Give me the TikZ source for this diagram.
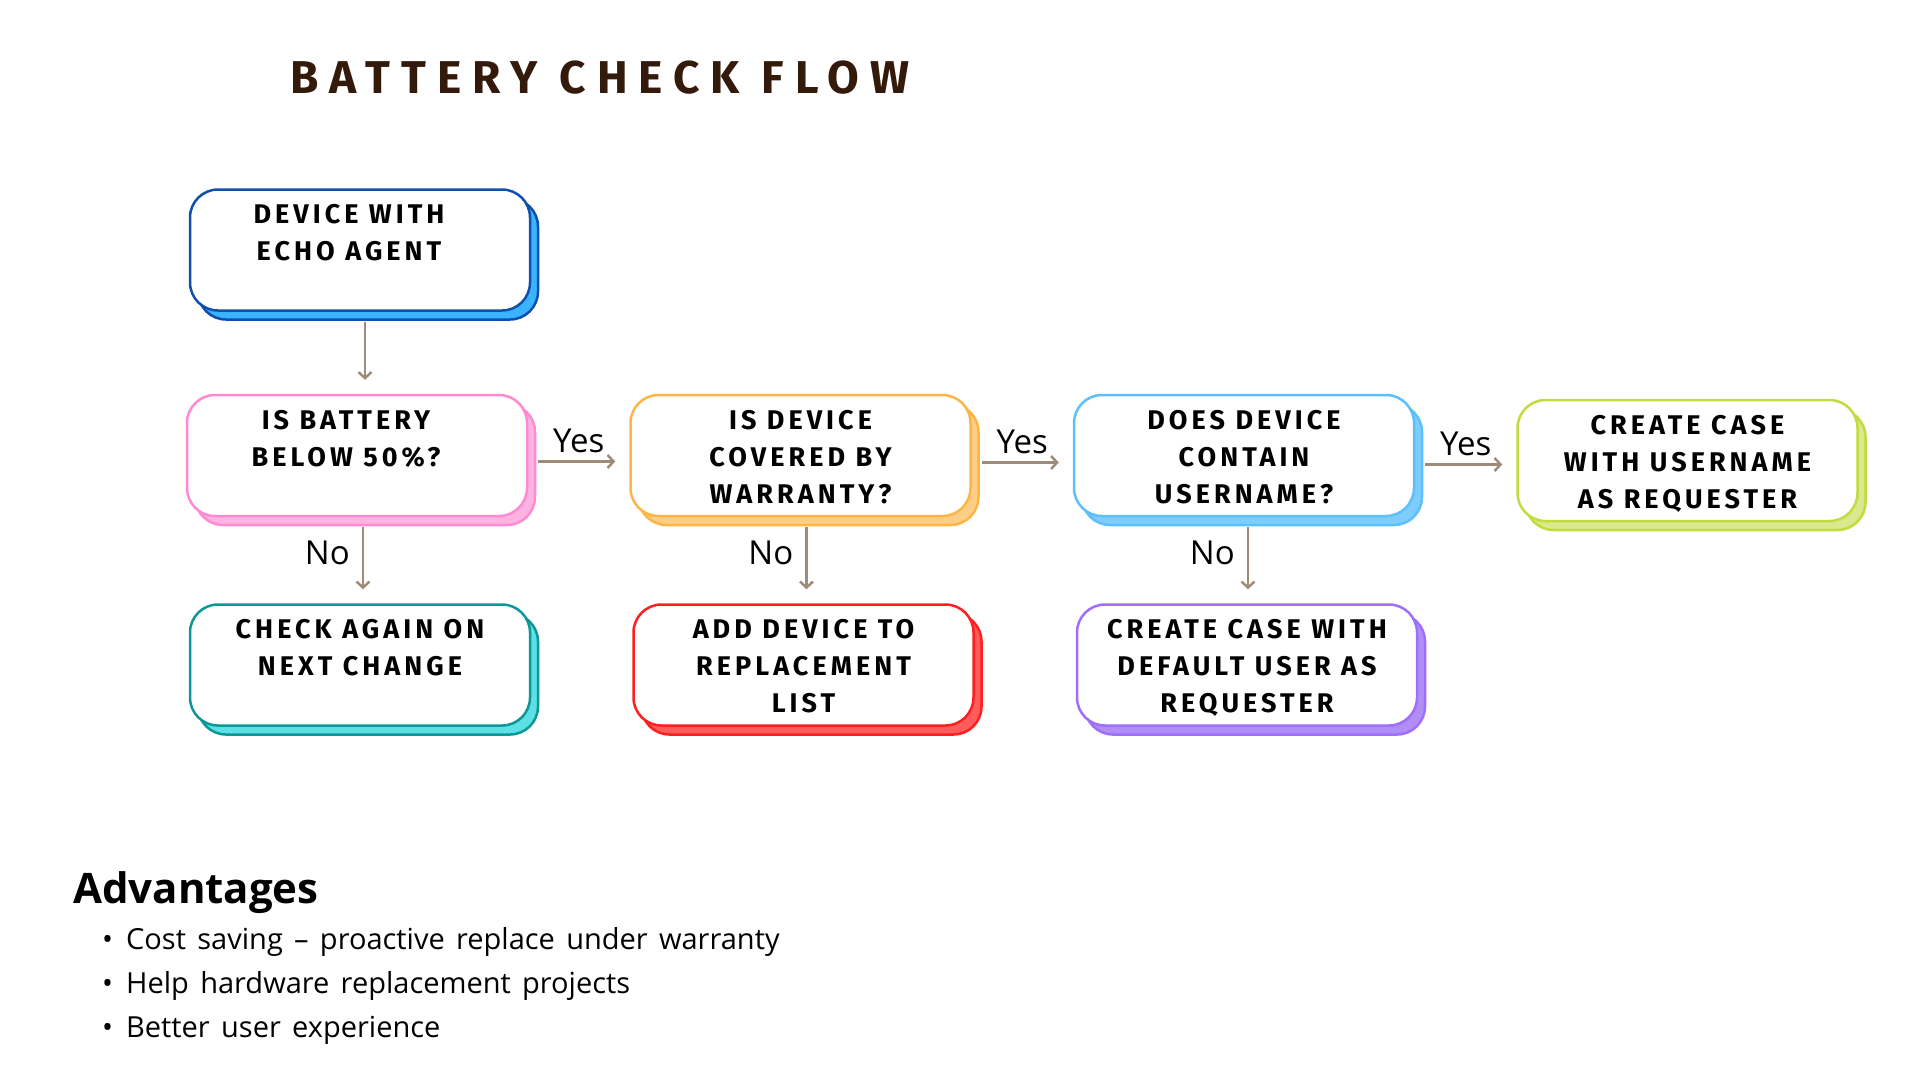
\documentclass[tikz,border=0pt]{standalone}
\usepackage{fontspec}
\usepackage{xcolor}
\usepackage{tikz}
\usetikzlibrary{positioning,shadows,arrows.meta}
\setmainfont{Open Sans}
\newfontfamily\boxfont[LetterSpace=15]{Fira Sans}
\newfontfamily\titlefont[LetterSpace=24]{Fira Sans}
\newfontfamily\listfont[WordSpace=1.5, Ligatures=TeX]{Open Sans}
\definecolor{titletext}{HTML}{331A0A}
\definecolor{linkline}{HTML}{9E8C78}
\definecolor{agentline}{HTML}{0F4FAE}
\definecolor{agentfill}{HTML}{3AB4FF}
\definecolor{batline}{HTML}{FF8AD2}
\definecolor{batfill}{HTML}{FFB3E3}
\definecolor{warline}{HTML}{FFB545}
\definecolor{warfill}{HTML}{FFCE85}
\definecolor{usrline}{HTML}{5CC0FF}
\definecolor{usrfill}{HTML}{7DCDFF}
\definecolor{creline}{HTML}{C2DB3E}
\definecolor{crefill}{HTML}{D8E98E}
\definecolor{chkline}{HTML}{0E9797}
\definecolor{chkfill}{HTML}{5CE0E5}
\definecolor{addline}{HTML}{FF1F1F}
\definecolor{addfill}{HTML}{FF5C5C}
\definecolor{dfltline}{HTML}{9F6EFF}
\definecolor{dfltfill}{HTML}{B18DF6}

\begin{document}
\begin{tikzpicture}[
        x=1pt, y=-1pt,
        node distance=101pt,
        flowbox/.style 2 args={
            rectangle,
            draw=#1,
            line width=2.5pt,
            fill=white,
            rounded corners=28pt,
            copy shadow={shadow xshift=8pt, shadow yshift=-9pt, fill=#2, draw=#1, line width=2.5pt},
            inner sep=0pt,
            minimum width=340pt,
            minimum height=121pt,
            font=\boxfont\bfseries\fontsize{27}{37}\selectfont,
            execute at begin node={\begin{minipage}[t][121pt][t]{340pt}\centering\vspace*{15pt}},
            execute at end node={\end{minipage}}
        },
        leftish/.style={
            execute at begin node={\rightskip=22pt plus 1fil}
        },
        arrow/.style={
            -{Straight Barb[length=6pt,width=13pt]},
            line width=2.5pt,
            color=linkline,
            shorten <=10pt,
            shorten >=14pt
        },
        answer/.style={
            text=black,
            font=\fontsize{33}{33}\selectfont,
            inner sep=2pt
        }
    ]
        \useasboundingbox (0,0) rectangle (1920,1080);

        \node (title) at (600,78) {\titlefont\bfseries\fontsize{46}{46}\selectfont\color{titletext}BATTERY CHECK FLOW};

        \node[flowbox={agentline}{agentfill}, leftish] (agent) at (360,250) {DEVICE WITH\\ECHO AGENT};
        \node[flowbox={batline}{batfill}, leftish, below=82pt of agent, xshift=-3pt] (battery) {IS BATTERY\\BELOW 50\%?};
        \node[flowbox={warline}{warfill}, right=of battery] (warranty) {IS DEVICE\\COVERED BY\\WARRANTY?};
        \node[flowbox={usrline}{usrfill}, right=of warranty] (username) {DOES DEVICE\\CONTAIN\\USERNAME?};
        \node[flowbox={creline}{crefill}, right=of username, yshift=-5pt] (usercase) {CREATE CASE\\WITH USERNAME\\AS REQUESTER};

        \node[flowbox={chkline}{chkfill}, below=86pt of battery, xshift=3pt] (recheck) {CHECK AGAIN ON\\NEXT CHANGE};
        \node[flowbox={addline}{addfill}, below=86pt of warranty, xshift=3pt] (replace) {ADD DEVICE TO\\REPLACEMENT\\LIST};
        \node[flowbox={dfltline}{dfltfill}, below=86pt of username, xshift=3pt] (defaultcase) {CREATE CASE WITH\\DEFAULT USER AS\\REQUESTER};

        \draw[arrow] ([xshift=5pt]agent.south) -- ([xshift=5pt]agent.south |- battery.north);

        % Yes branches
        \draw[arrow] ([yshift=-6pt]battery.east) -- node[answer, above=5pt] {Yes} ([yshift=-6pt]warranty.west);
        \draw[arrow] ([yshift=-7pt]warranty.east) -- node[answer, above=5pt] {Yes} ([yshift=-7pt]username.west);
        \draw[arrow] ([yshift=-9pt]username.east) -- node[answer, above=5pt] {Yes} ([yshift=-4pt]usercase.west);

        % No branches
        \draw[arrow] ([xshift=6pt]battery.south) -- node[answer, left=10pt, yshift=7pt] {No} ([xshift=3pt]recheck.north);
        \draw[arrow] ([xshift=6pt]warranty.south) -- node[answer, left=10pt, yshift=7pt] {No} ([xshift=3pt]replace.north);
        \draw[arrow] ([xshift=4pt]username.south) -- node[answer, left=10pt, yshift=7pt] {No} ([xshift=1pt]defaultcase.north);

        \node[anchor=west, inner sep=0pt, font=\bfseries\fontsize{42}{42}\selectfont] (advantages) at (73,893) {Advantages};
        \node[anchor=north west, inner sep=0pt, align=left, font=\listfont\fontsize{29}{44}\selectfont] (benefits) at (102,927)
            {\makebox[24pt][l]{\textbullet}Cost saving – proactive replace under warranty\\
             \makebox[24pt][l]{\textbullet}Help hardware replacement projects\\
             \makebox[24pt][l]{\textbullet}Better user experience};
    \end{tikzpicture}
\end{document}
